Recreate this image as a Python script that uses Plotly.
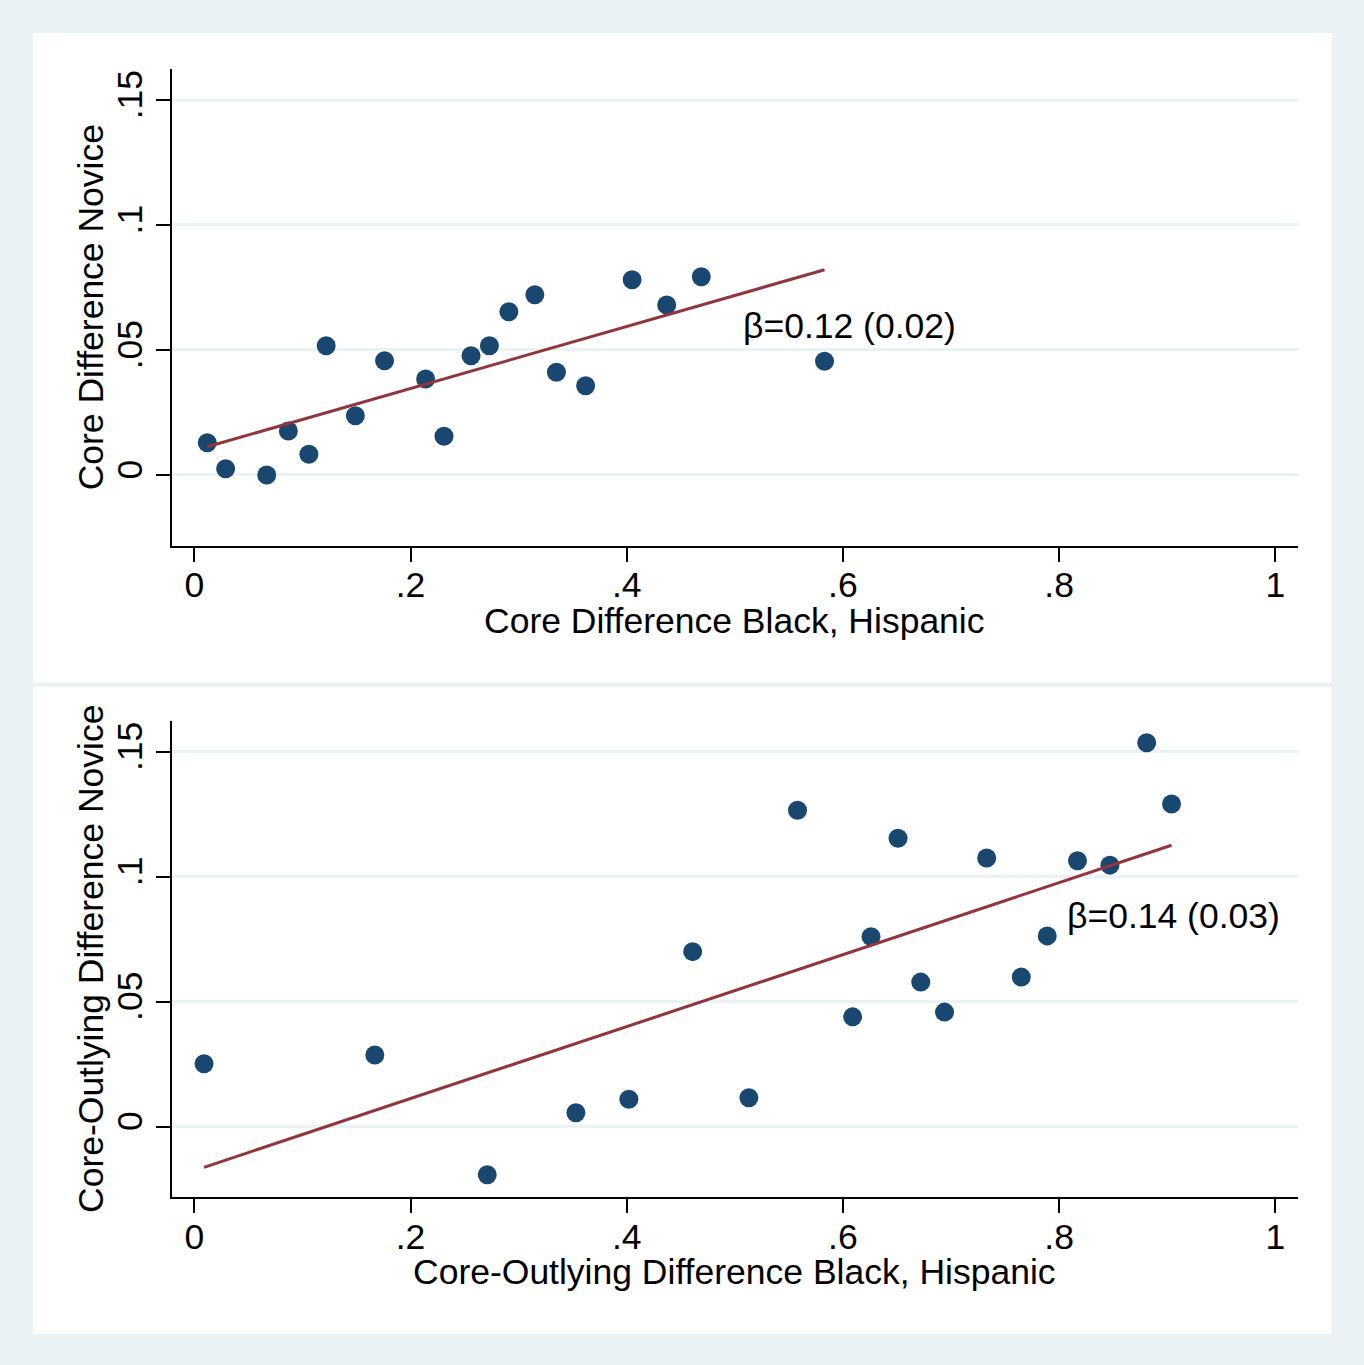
import plotly.graph_objects as go

# Binned means: core difference (Black vs Hispanic) against novice difference
core_bh = [0.012, 0.029, 0.067, 0.087, 0.106, 0.122, 0.149, 0.176, 0.214, 0.231,
           0.256, 0.273, 0.291, 0.315, 0.335, 0.362, 0.405, 0.437, 0.469, 0.583]
core_novice = [0.0129, 0.0025, 0.0000, 0.0176, 0.0083, 0.0517, 0.0237, 0.0457, 0.0384, 0.0155,
               0.0477, 0.0517, 0.0653, 0.0721, 0.0411, 0.0357, 0.0781, 0.0680, 0.0793, 0.0455]

# Binned means: core-outlying difference
co_bh = [0.009, 0.167, 0.271, 0.353, 0.402, 0.461, 0.513, 0.558, 0.609, 0.626,
         0.651, 0.672, 0.694, 0.733, 0.765, 0.789, 0.817, 0.847, 0.881, 0.904]
co_novice = [0.0251, 0.0286, -0.0193, 0.0055, 0.0109, 0.0700, 0.0115, 0.1266, 0.0439, 0.0760,
             0.1154, 0.0578, 0.0458, 0.1075, 0.0598, 0.0763, 0.1064, 0.1046, 0.1536, 0.1291]

# Linear fit (intercept, slope, standard error of slope)
fit_core = (0.0098, 0.124, 0.02)
fit_co = (-0.0176, 0.144, 0.03)

x_ticks = [0, 0.2, 0.4, 0.6, 0.8, 1]
x_ticktext = ["0", ".2", ".4", ".6", ".8", "1"]
y_ticks = [0, 0.05, 0.1, 0.15]
y_ticktext = ["0", ".05", ".1", ".15"]

W, H = 1364, 1365
NAVY = "#1A476F"
MAROON = "#90353B"
FRAME = "#EAF2F3"
FONT = "Liberation Sans, Arial, Helvetica, sans-serif"
FS = 35.5


def px_x(p):
    return p / W


def px_y(p):
    return 1 - p / H


fig = go.Figure()

panels = [
    dict(x=core_bh, y=core_novice, fit=fit_core, xa="x", ya="y",
         xtitle="Core Difference Black, Hispanic", ytitle="Core Difference Novice",
         top=69, bottom=545.7, panel=(33, 682.7), lab=(0.5055, 0.0596)),
    dict(x=co_bh, y=co_novice, fit=fit_co, xa="x2", ya="y2",
         xtitle="Core-Outlying Difference Black, Hispanic",
         ytitle="Core-Outlying Difference Novice",
         top=720.7, bottom=1197.3, panel=(686.7, 1334), lab=(0.805, 0.0843)),
]

left, right = 171.7, 1297.7
shapes = []
annotations = []

for i, p in enumerate(panels):
    fig.add_trace(go.Scatter(
        x=p["x"], y=p["y"], mode="markers", xaxis=p["xa"], yaxis=p["ya"],
        marker=dict(color=NAVY, size=19, line=dict(width=0)), showlegend=False,
        cliponaxis=False,
    ))
    a, b, se = p["fit"]
    xs = [min(p["x"]), max(p["x"])]
    fig.add_trace(go.Scatter(
        x=xs, y=[a + b * v for v in xs], mode="lines", xaxis=p["xa"], yaxis=p["ya"],
        line=dict(color=MAROON, width=3), showlegend=False,
    ))

    sfx = "" if i == 0 else str(i + 1)
    axis_common = dict(
        showline=True, linecolor="black", linewidth=2,
        ticks="outside", ticklen=14, tickwidth=2, tickcolor="black",
        tickfont=dict(family=FONT, size=FS, color="black"),
        zeroline=False, mirror=False,
    )
    fig.update_layout(**{
        "xaxis" + sfx: dict(
            domain=[px_x(left), px_x(right)], range=[-0.0209, 1.0207],
            tickvals=x_ticks, ticktext=x_ticktext, showgrid=False,
            ticklabelstandoff=-7,
            anchor="y" + sfx, **axis_common),
        "yaxis" + sfx: dict(
            domain=[px_y(p["bottom"]), px_y(p["top"])], range=[-0.0283, 0.1624],
            tickvals=y_ticks, ticktext=y_ticktext, tickangle=-90,
            showgrid=True, gridcolor=FRAME, gridwidth=3,
            anchor="x" + sfx, **axis_common),
    })

    # white panel behind each graph
    shapes.append(dict(type="rect", xref="paper", yref="paper", layer="below",
                       x0=px_x(33), x1=px_x(1331.7),
                       y0=px_y(p["panel"][1]), y1=px_y(p["panel"][0]),
                       fillcolor="white", line=dict(width=0)))

    # axis titles
    annotations.append(dict(
        text=p["xtitle"], xref="paper", yref="paper",
        x=px_x((left + right) / 2), y=px_y(p["bottom"] + 75),
        xanchor="center", yanchor="middle", showarrow=False,
        font=dict(family=FONT, size=FS, color="black")))
    annotations.append(dict(
        text=p["ytitle"], xref="paper", yref="paper",
        x=px_x(91), y=px_y((p["top"] + p["bottom"]) / 2), textangle=-90,
        xanchor="center", yanchor="middle", showarrow=False,
        font=dict(family=FONT, size=FS, color="black")))

    # slope label
    annotations.append(dict(
        text=f"β={b:.2f} ({se:.2f})", xref=p["xa"], yref=p["ya"],
        x=p["lab"][0], y=p["lab"][1], xanchor="left", yanchor="middle",
        showarrow=False, font=dict(family=FONT, size=FS, color="black")))

fig.update_layout(
    width=W, height=H, margin=dict(l=0, r=0, t=0, b=0),
    paper_bgcolor=FRAME, plot_bgcolor="white",
    shapes=shapes, annotations=annotations,
    font=dict(family=FONT, size=FS, color="black"),
)

fig.write_html("out.html")
